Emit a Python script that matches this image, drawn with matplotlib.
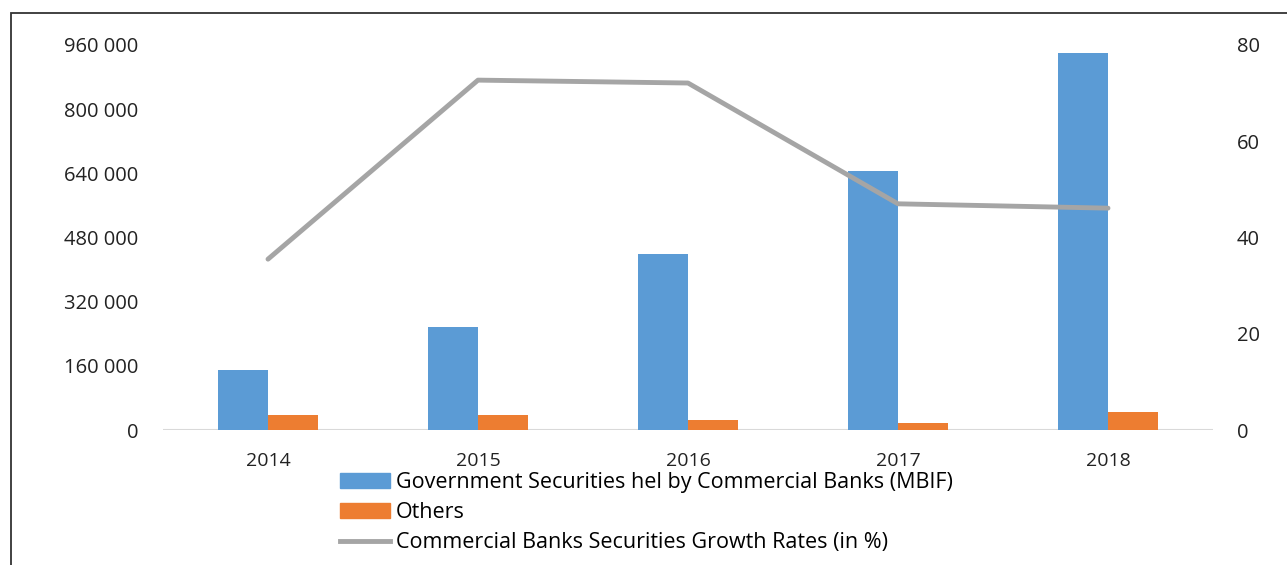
import matplotlib.pyplot as plt
from matplotlib.ticker import FuncFormatter, FixedLocator
from matplotlib.patches import Rectangle
from matplotlib.lines import Line2D
import numpy as np

years = ["2014", "2015", "2016", "2017", "2018"]
gov_securities = [150000, 257000, 439000, 646000, 940000]
others = [37000, 37000, 25000, 17500, 45000]
growth_rates = [35.5, 72.7, 72.1, 47.0, 46.1]

blue = "#5b9bd5"
orange = "#ed7d31"
grey = "#a5a5a5"

plt.rcParams['font.family'] = ['Open Sans', 'DejaVu Sans']

fig = plt.figure(figsize=(12.87, 5.65), dpi=100)
ax = fig.add_axes([163 / 1287, 1 - 430 / 565, 1050 / 1287, 385 / 565])

x = np.arange(len(years))
w = 0.238
ax.bar(x - w / 2, gov_securities, w, color=blue, zorder=2)
ax.bar(x + w / 2, others, w, color=orange, zorder=2)
ax.axhline(0, color="#d9d9d9", lw=1.5, zorder=1)

ax.set_xlim(-0.5, 4.5)
ax.set_ylim(0, 960000)
ax.yaxis.set_major_locator(FixedLocator(np.arange(0, 960001, 160000)))
ax.yaxis.set_major_formatter(FuncFormatter(lambda v, p: f"{int(v):,}".replace(",", " ")))
ax.set_xticks(x)
ax.set_xticklabels(years)
ax.tick_params(axis="y", length=0, pad=18, labelsize=14.5, labelcolor="#222222")
ax.tick_params(axis="x", length=0, pad=16, labelsize=14, labelcolor="#222222")
for s in ax.spines.values():
    s.set_visible(False)

ax2 = ax.twinx()
ax2.plot(x, growth_rates, color=grey, lw=3.5, solid_capstyle="round", zorder=3)
ax2.set_ylim(0, 80)
ax2.set_yticks([0, 20, 40, 60, 80])
ax2.tick_params(axis="y", length=0, pad=17, labelsize=14.5, labelcolor="#222222")
for s in ax2.spines.values():
    s.set_visible(False)

handles = [
    Rectangle((0, 0), 1, 1, color=blue),
    Rectangle((0, 0), 1, 1, color=orange),
    Line2D([], [], color=grey, lw=3.5),
]
labels = [
    "Government Securities hel by Commercial Banks (MBIF)",
    "Others",
    "Commercial Banks Securities Growth Rates (in %)",
]
fig.legend(handles, labels, loc="upper left", bbox_to_anchor=(340 / 1287, 1 - 472 / 565),
           frameon=False, fontsize=15.5, handlelength=2.3, handleheight=0.65,
           handletextpad=0.3, labelspacing=0.42, borderpad=0, borderaxespad=0)

# outer frame
fig.add_artist(Rectangle((11 / 1287, -0.1), 1.2, 1 - 13 / 565 + 0.1,
                         transform=fig.transFigure, fill=False,
                         edgecolor="#333333", lw=1.3))

fig.savefig("out.png", dpi=100)
